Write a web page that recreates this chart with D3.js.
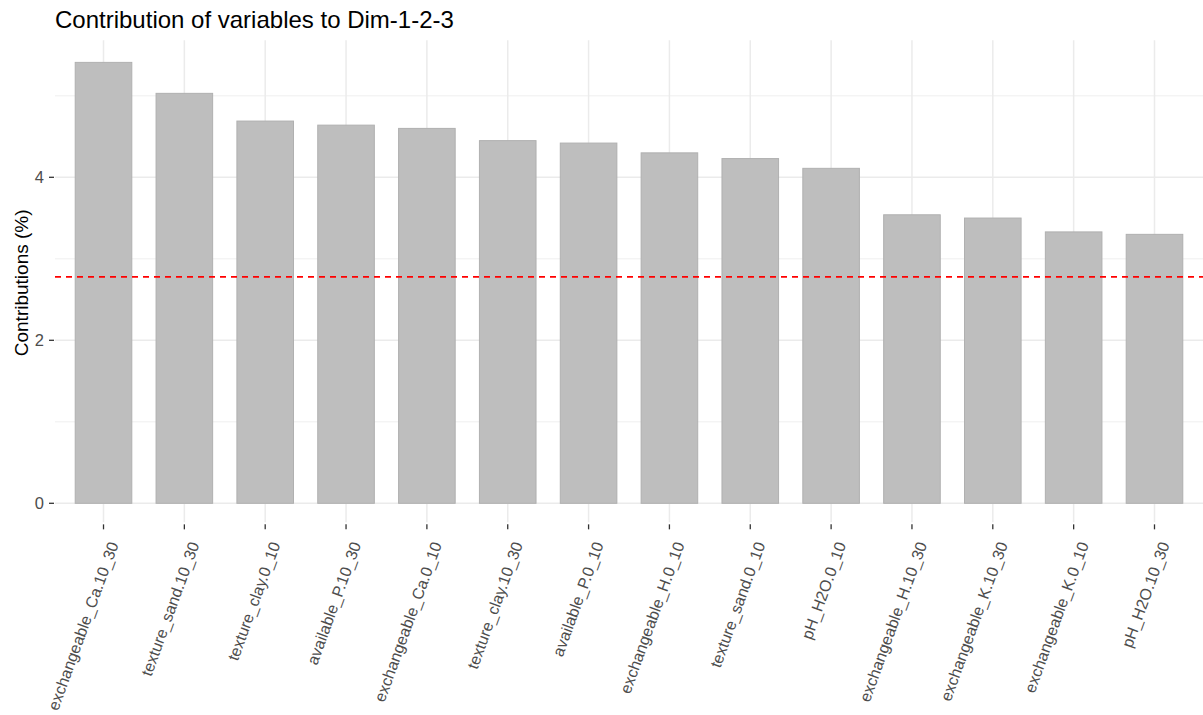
<!DOCTYPE html>
<html>
<head>
<meta charset="utf-8">
<script src="https://cdnjs.cloudflare.com/ajax/libs/d3/7.8.5/d3.min.js"></script>
<style>
  body { margin: 0; background: #fff; }
  text { font-family: "Liberation Sans", Arial, sans-serif; }
</style>
</head>
<body>
<div id="chart"></div>
<script>
"use strict";

const variables = [
  "exchangeable_Ca.10_30", "texture_sand.10_30", "texture_clay.0_10",
  "available_P.10_30", "exchangeable_Ca.0_10", "texture_clay.10_30",
  "available_P.0_10", "exchangeable_H.0_10", "texture_sand.0_10",
  "pH_H2O.0_10", "exchangeable_H.10_30", "exchangeable_K.10_30",
  "exchangeable_K.0_10", "pH_H2O.10_30"
];
const contributions = [5.41, 5.03, 4.69, 4.64, 4.60, 4.45, 4.42, 4.30, 4.23, 4.11, 3.54, 3.50, 3.33, 3.30];
const majorTicks = [0, 2, 4];
const minorTicks = [1, 3, 5];
const expected = 100 / 36;

const width = 1203, height = 715;
const panelLeft = 55, panelRight = 1203;

let svg = d3.select('#chart')
  .append('svg')
  .attr('width', width)
  .attr('height', height);

let ymax = d3.max(contributions);
let pad = 0.05 * ymax;

let x = d3.scaleBand()
  .domain(variables)
  .range([panelLeft, panelRight])
  .paddingInner(0.3)
  .paddingOuter(0.25);

let y = d3.scaleLinear()
  .domain([-pad, ymax + pad])
  .range([503.3 + pad * 81.5, 503.3 - (ymax + pad) * 81.5]);

let panelTop = y.range()[1], panelBottom = y.range()[0];
let cx = d => x(d) + x.bandwidth() / 2;

// grid
svg.selectAll('.minor')
  .data(minorTicks)
  .enter()
  .append('line')
  .attr('x1', panelLeft).attr('x2', panelRight)
  .attr('y1', d => y(d)).attr('y2', d => y(d))
  .attr('stroke', '#ebebeb').attr('stroke-width', 0.8);

svg.selectAll('.major')
  .data(majorTicks)
  .enter()
  .append('line')
  .attr('x1', panelLeft).attr('x2', panelRight)
  .attr('y1', d => y(d)).attr('y2', d => y(d))
  .attr('stroke', '#ebebeb').attr('stroke-width', 1.5);

svg.selectAll('.vgrid')
  .data(variables)
  .enter()
  .append('line')
  .attr('x1', cx).attr('x2', cx)
  .attr('y1', panelTop).attr('y2', panelBottom - 3)
  .attr('stroke', '#ebebeb').attr('stroke-width', 1.5);

// bars
svg.selectAll('.bar')
  .data(variables)
  .enter()
  .append('rect')
  .attr('x', d => x(d))
  .attr('width', x.bandwidth())
  .attr('y', (d, i) => y(contributions[i]))
  .attr('height', (d, i) => y(0) - y(contributions[i]))
  .attr('fill', '#bebebe')
  .attr('stroke', '#b0b0b0')
  .attr('stroke-width', 1);

// expected contribution line
svg.append('line')
  .attr('x1', panelLeft).attr('x2', panelRight)
  .attr('y1', y(expected)).attr('y2', y(expected))
  .attr('stroke', '#ff0000')
  .attr('stroke-width', 1.8)
  .attr('stroke-dasharray', '6,5');

// y axis
svg.selectAll('.ytick')
  .data(majorTicks)
  .enter()
  .append('line')
  .attr('x1', panelLeft - 6).attr('x2', panelLeft - 1)
  .attr('y1', d => y(d)).attr('y2', d => y(d))
  .attr('stroke', '#333').attr('stroke-width', 1.3);

svg.selectAll('.ylab')
  .data(majorTicks)
  .enter()
  .append('text')
  .attr('x', panelLeft - 11)
  .attr('y', d => y(d))
  .attr('dy', '0.36em')
  .attr('text-anchor', 'end')
  .attr('font-size', 16.5)
  .attr('fill', '#4d4d4d')
  .text(d => d);

svg.append('text')
  .attr('transform', `translate(28,${(panelTop + panelBottom) / 2}) rotate(-90)`)
  .attr('text-anchor', 'middle')
  .attr('font-size', 19)
  .attr('fill', '#000')
  .text('Contributions (%)');

// x axis
svg.selectAll('.xtick')
  .data(variables)
  .enter()
  .append('line')
  .attr('x1', cx).attr('x2', cx)
  .attr('y1', panelBottom - 1).attr('y2', panelBottom + 4)
  .attr('stroke', '#333').attr('stroke-width', 1.3);

svg.selectAll('.xlab')
  .data(variables)
  .enter()
  .append('text')
  .attr('transform', d => `translate(${cx(d) + 10},${panelBottom + 17}) rotate(-70)`)
  .attr('text-anchor', 'end')
  .attr('dy', '0.35em')
  .attr('font-size', 16)
  .attr('fill', '#4d4d4d')
  .text(d => d);

// title
svg.append('text')
  .attr('x', panelLeft)
  .attr('y', 28)
  .attr('font-size', 24)
  .attr('fill', '#000')
  .text('Contribution of variables to Dim-1-2-3');
</script>
</body>
</html>
